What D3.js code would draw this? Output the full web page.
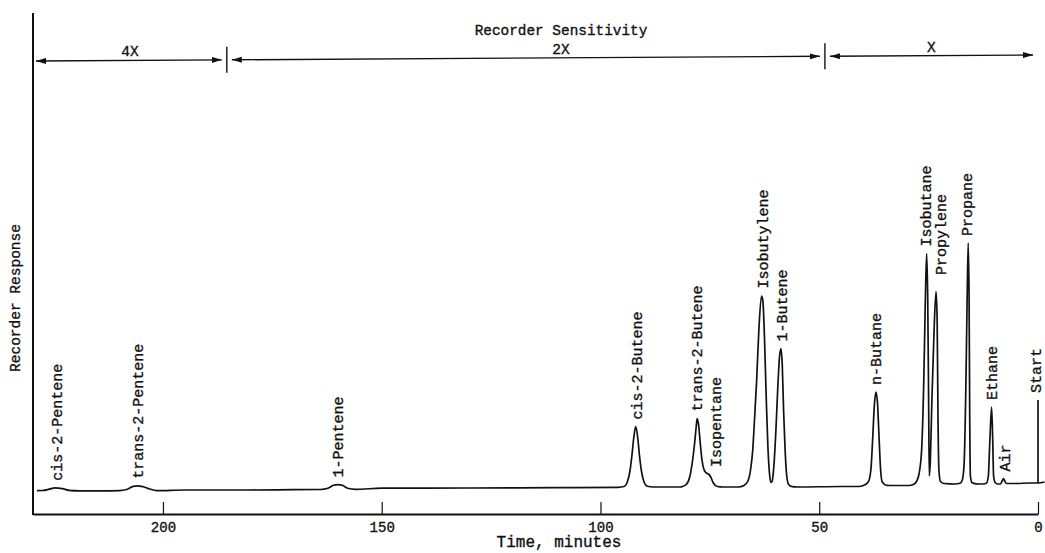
<!DOCTYPE html>
<html><head><meta charset="utf-8">
<script src="https://cdn.jsdelivr.net/npm/d3@7"></script>
<style>
body{margin:0;background:#fff}
svg{display:block}
text{font-family:"Liberation Mono","Courier New",monospace;fill:#111;stroke:#111;stroke-width:0.35px}
</style>
</head><body><svg id="c" width="1045" height="553"></svg>
<script>
// ---- data (time in minutes, response in arbitrary recorder units) ----
const traceTime = [228.8,227.5,226,224.7,223,221.5,219,214,210,208.3,206.8,205.8,204.5,203,201.5,195,180,170,164,162.3,161,160,159,157.8,156,150,130,110,96,94.6,93.9,93.3,92.8,92.4,91.95,91.5,91.1,90.6,90,89.3,88,82,81.5,80.4,79.6,79.0,78.5,78.1,77.9,77.6,77.2,76.8,76.3,75.8,75.3,74.8,74.2,73.3,72,68.5,67.2,66.3,65.7,65.2,64.8,64.3,63.8,63.2,62.9,62.5,62.1,61.75,61.4,61.05,60.75,60.35,59.9,59.5,59.1,58.75,58.45,58.15,57.8,57.45,57.0,56.2,55,45,41,39.9,38.8,38.2,37.8,37.4,37.05,36.7,36.35,36.0,35.6,34.6,33,29.5,28.5,27.7,27.2,26.6,26.1,25.75,25.45,25.2,25.0,24.85,24.6,24.25,23.75,23.3,23.05,22.85,22.65,22.3,21.5,19,17.8,17.3,16.9,16.5,16.2,15.95,15.75,15.6,15.45,15.1,14.2,12.5,11.75,11.35,11.0,10.6,10.35,10.15,9.8,9.2,8.6,8.2,7.9,7.6,7.2,5,2,0,-1.5];
const traceResponse = [-0.7,-0.5,0.8,2.2,1.4,-0.3,-0.8,-0.8,-0.6,0.5,3.7,4.2,3.2,1.0,-0.6,0.0,0.0,0.3,0.5,1.7,4.7,5.4,4.7,1.8,0.7,1.8,2.0,2.3,2.7,3.5,7.5,18,35,52,63.5,53,35,18,7.5,3.8,3.0,3.0,3.2,5.5,13,28,46,64,71.5,66,47,30,20,17,16,13,7,3.5,3.0,3.0,4.5,9,20,40,70,110,160,194,190,150,90,45,18,7.5,9,25,60,100,132,141.5,125,80,40,15,5.5,3.3,3.0,3.5,3.5,4.5,8,20,50,85,98,88,55,22,8,4.7,4.5,4.5,5.5,9,16,40,110,190,236.5,190,90,14,30,90,160,198.3,170,70,20,8.5,6.5,6,6.7,10,25,100,190,247,190,70,14,7.5,6.2,6,7,14,50,83,50,14,7.5,6,6,9,11.5,9,6.5,6.5,7,7,8];
const peakNames = ["cis-2-Pentene","trans-2-Pentene","1-Pentene","cis-2-Butene","trans-2-Butene","Isopentane","Isobutylene","1-Butene","n-Butane","Isobutane","Propylene","Propane","Ethane","Air","Start"];
const peakTimes = [224.2,205.7,160,91.7,77.9,73.6,62.9,58.5,37.0,25.6,22.2,16.2,10.5,7.5,0.5];
const peakTops  = [2.3,4.3,5.4,63.5,71.5,16,194.5,141.5,98,236.5,208,247,83,11.5,90];
const startTime = 0, startTop = 90;
const xTicks = [200,150,100,50,0];
const sensitivityLabels = ["4X","2X","X"];
const sensitivityBounds = [229.7,185.4,48.7,0];

// ---- layout ----
const svg = d3.select("#c");
const x = d3.scaleLinear().domain([229.7,0]).range([33,1038]);
const y = d3.scaleLinear().domain([0,400]).range([490,90]);
const ink = "#111";

// axes
svg.append("line").attr("x1",33).attr("x2",33).attr("y1",13).attr("y2",515)
  .attr("stroke",ink).attr("stroke-width",2);
const ax = svg.append("g").attr("transform","translate(0,514)")
  .call(d3.axisBottom(x).tickValues(xTicks).tickFormat(d3.format("d"))
        .tickSizeInner(-12).tickSizeOuter(0).tickPadding(8));
ax.select(".domain").attr("stroke",ink).attr("stroke-width",2);
ax.selectAll(".tick line").attr("stroke",ink).attr("stroke-width",1.2);
ax.selectAll(".tick text").attr("font-family","Liberation Mono, monospace").attr("font-size",14).attr("fill",ink);

svg.append("text").attr("x",559).attr("y",547).attr("text-anchor","middle")
  .attr("font-size",16).text("Time, minutes");
svg.append("text").attr("transform","translate(20,298) rotate(-90)").attr("text-anchor","middle")
  .attr("font-size",14.5).text("Recorder Response");

// trace
const line = d3.line().x((d,i)=>x(traceTime[i])).y((d,i)=>y(traceResponse[i])).curve(d3.curveMonotoneX);
svg.append("path").attr("d",line(traceTime)).attr("fill","none").attr("stroke",ink)
  .attr("stroke-width",1.7).attr("stroke-linejoin","round");

// start marker
const baseAt = t => { let i = traceTime.findIndex(v=>v<=t); return traceResponse[i]; };
svg.append("line").attr("x1",x(startTime)).attr("x2",x(startTime))
  .attr("y1",y(baseAt(startTime))).attr("y2",y(startTop)).attr("stroke",ink).attr("stroke-width",1.7);

// peak labels
svg.append("g").selectAll("text").data(peakNames).join("text")
  .attr("transform",(d,i)=>`translate(${x(peakTimes[i])},${y(peakTops[i])-7}) rotate(-90)`)
  .attr("dy","0.35em").attr("font-size",15).attr("text-anchor","start").text(d=>d);

// sensitivity annotation
const defs = svg.append("defs");
defs.append("marker").attr("id","arr").attr("viewBox","0 0 10 6").attr("refX",10).attr("refY",3)
  .attr("markerWidth",10).attr("markerHeight",6).attr("markerUnits","userSpaceOnUse")
  .attr("orient","auto-start-reverse").append("path").attr("d","M0,0L10,3L0,6Z").attr("fill",ink);
const yTop = px => 61 - 6*(px-33)/1005;
sensitivityLabels.forEach((lab,i)=>{
  const x0 = x(sensitivityBounds[i]) + (i===0?3:5), x1 = x(sensitivityBounds[i+1]) - 5;
  svg.append("line").attr("x1",x0).attr("x2",x1).attr("y1",yTop(x0)).attr("y2",yTop(x1))
    .attr("stroke",ink).attr("stroke-width",1.4)
    .attr("marker-start","url(#arr)").attr("marker-end","url(#arr)");
  const cx = i===1 ? 561 : (x(sensitivityBounds[i])+x(sensitivityBounds[i+1]))/2;
  svg.append("text").attr("x",cx).attr("y",yTop(cx)-4).attr("text-anchor","middle")
    .attr("font-size",14.5).text(lab);
});
sensitivityBounds.slice(1,3).forEach(b=>{
  const px = x(b);
  svg.append("line").attr("x1",px).attr("x2",px).attr("y1",yTop(px)-13).attr("y2",yTop(px)+13)
    .attr("stroke",ink).attr("stroke-width",1.4);
});
svg.append("text").attr("x",561).attr("y",35).attr("text-anchor","middle")
  .attr("font-size",14.4).text("Recorder Sensitivity");
</script>
</body></html>
